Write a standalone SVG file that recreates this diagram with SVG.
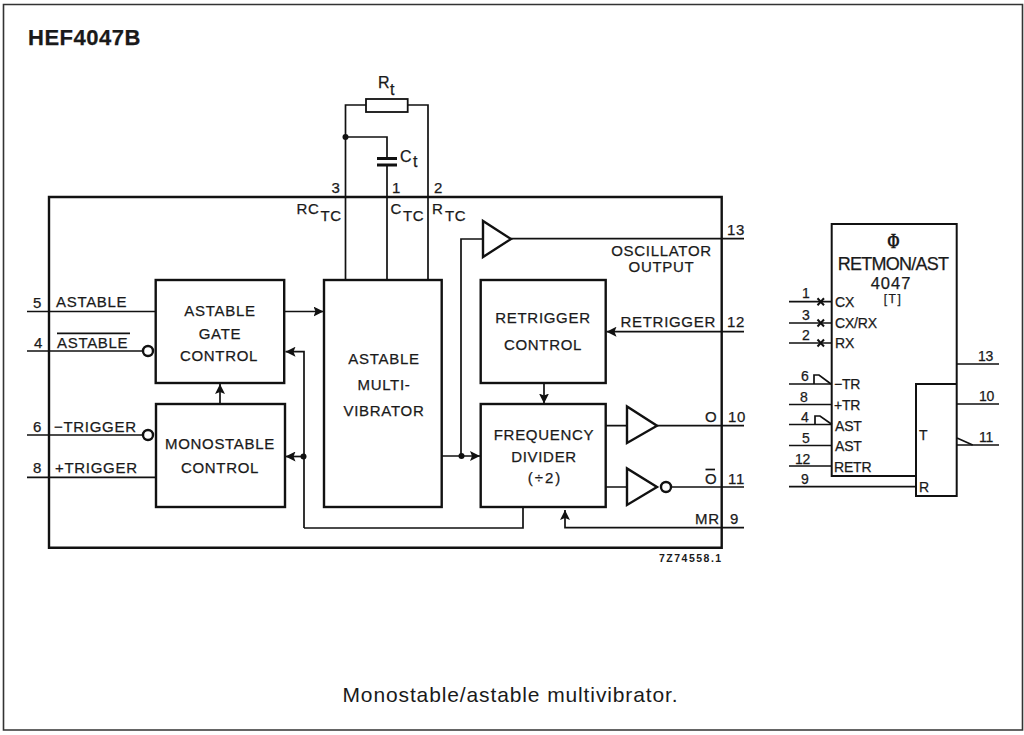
<svg xmlns="http://www.w3.org/2000/svg" width="1024" height="735" viewBox="0 0 1024 735">
<style>
text{font-family:"Liberation Sans",Arial,sans-serif;fill:#1a1a1a;stroke:#1a1a1a;stroke-width:.25;font-size:15px;letter-spacing:.7px}
.m{text-anchor:middle}
.b{fill:none;stroke:#111;stroke-width:2.4}
.l{fill:none;stroke:#111;stroke-width:1.7}
.a{marker-end:url(#arr)}
.d{fill:#111}
.s{font-size:14px;letter-spacing:-.2px}
.w{fill:#fff;stroke:#111;stroke-width:2.4}
</style>
<defs>
<marker id="arr" markerUnits="userSpaceOnUse" markerWidth="11" markerHeight="10" refX="10" refY="5" orient="auto"><path d="M0 0L10 5L0 10L2 5Z" fill="#111"/></marker>
</defs>
<rect width="1024" height="735" fill="#fff"/>
<path id="page-frame" d="M3.5 4.5H1022.5V730H3.5Z" fill="none" stroke="#333" stroke-width="1.6"/>
<text x="28" y="45" style="font-size:22px;font-weight:bold;letter-spacing:.5px">HEF4047B</text>
<text x="510.500" y="702" class="m" style="font-size:21px;letter-spacing:.88px;stroke-width:0">Monostable/astable multivibrator.</text>

<g id="connectors">
<path class="l" d="M27 311.500H156M27 351H143M27 435H143M27 477.300H156"/>
<path class="l a" d="M285 311.500H323.500"/>
<path class="l a" d="M304 528V351.700H285.500"/>
<path class="l a" d="M304 456.500H285.500"/>
<path class="l a" d="M220 404V384"/>
<path class="l" d="M523 507V528H304"/>
<path class="l a" d="M744 331.700H606.500"/>
<path class="l a" d="M544 383V403.500"/>
<path class="l a" d="M442 456H480"/>
<path class="l" d="M461 456V239H483"/>
<path class="l" d="M511 238.700H744"/>
<path class="l" d="M606 425.700H627M657 425.700H744M606 487H627M671 487H744"/>
<path class="l a" d="M744 527.700H565V510"/>
<path class="l" d="M345.500 280V105H366M407.700 105H428V280M345.500 137H387V158.500M387 165V280"/>
<circle class="d" cx="345.500" cy="137" r="3"/>
<circle class="d" cx="303.500" cy="456.500" r="3"/>
<circle class="d" cx="461.500" cy="456" r="3"/>
</g>

<g id="ic-frame"><path class="b" d="M49 197H721.700V547.700H49Z"/>
<text x="33" y="307.500">5</text><text x="56" y="307">ASTABLE</text>
<text x="34" y="347.500">4</text><text x="57" y="347.500">ASTABLE</text><path class="l" d="M57 333.300H130"/>
<text x="33" y="431.500">6</text><text x="54" y="431.500">−TRIGGER</text>
<text x="33" y="473">8</text><text x="55" y="472.700">+TRIGGER</text>
<text x="331.500" y="193">3</text><text x="392" y="193">1</text><text x="434" y="193">2</text>
<text x="296.500" y="214">RC</text><text x="320.500" y="220.500">TC</text>
<text x="390.500" y="214">C</text><text x="403" y="220.500">TC</text>
<text x="432" y="214">R</text><text x="445" y="220.500">TC</text>
<text x="727" y="235">13</text>
<text x="661.500" y="255.500" class="m">OSCILLATOR</text><text x="661.500" y="271.500" class="m">OUTPUT</text>
<text x="620.500" y="327">RETRIGGER</text><text x="727" y="327">12</text>
<text x="705" y="422">O</text><text x="728" y="422">10</text>
<text x="705" y="484">O</text><path class="l" d="M705.500 469.500H715"/><text x="728" y="484">11</text>
<text x="695" y="524">MR</text><text x="730" y="524">9</text>
</g>

<g id="rt"><rect class="b" x="366" y="99" width="41.700" height="13" style="stroke-width:1.8"/>
<text x="378" y="88" style="font-size:16px">R</text><text x="390" y="95" style="font-size:16px">t</text></g>
<g id="ct"><path class="b" d="M377 158.500H397M377 165H397" style="stroke-width:2.800"/>
<text x="400" y="161.500" style="font-size:16px">C</text><text x="413" y="167" style="font-size:16px">t</text></g>

<g id="astable-gate-control"><rect class="b" x="155.700" y="280" width="128.500" height="103"/>
<text x="220" y="315.500" class="m">ASTABLE</text><text x="220" y="339" class="m">GATE</text><text x="219" y="361" class="m">CONTROL</text>
<circle class="w" cx="148" cy="351" r="5"/></g>
<g id="monostable-control"><rect class="b" x="156" y="404" width="129" height="103"/>
<text x="220" y="449" class="m">MONOSTABLE</text><text x="220" y="472.700" class="m">CONTROL</text>
<circle class="w" cx="148" cy="435" r="5"/></g>
<g id="astable-multivibrator"><rect class="b" x="324" y="280" width="117.700" height="227"/>
<text x="384" y="364" class="m">ASTABLE</text><text x="384" y="390" class="m">MULTI-</text><text x="384" y="416" class="m">VIBRATOR</text></g>
<g id="retrigger-control"><rect class="b" x="480.700" y="280" width="125" height="103"/>
<text x="543" y="323" class="m">RETRIGGER</text><text x="543" y="350" class="m">CONTROL</text></g>
<g id="frequency-divider"><rect class="b" x="480.700" y="404" width="125" height="103"/>
<text x="544" y="440" class="m">FREQUENCY</text><text x="544" y="461.700" class="m">DIVIDER</text><text x="545" y="483" class="m" style="letter-spacing:2px">(÷2)</text></g>
<g id="buffer-osc"><path class="w" d="M483 221V257L511 239Z"/></g>
<g id="buffer-o"><path class="w" d="M627 406.500V443L657 425.700Z"/></g>
<g id="inverter-o"><path class="w" d="M627 468.500V505L657 487Z"/><circle class="w" cx="666" cy="487" r="5"/></g>
<text id="code" x="659" y="561.500" style="font-size:10.500px;font-weight:bold;letter-spacing:1.5px;stroke-width:0">7Z74558.1</text>

<g id="logic-symbol">
<path class="b" style="stroke-width:2" d="M916 476H831.700V224H956.700V496H916V384H956.700"/>
<path class="l" d="M789 301.700H832M789 323H832M789 343H832M789 384H832M789 404.500H832M789 424.500H832M789 445.500H832M789 466H832M789 486.700H916M957 364H999M957 404H999M957 445H999"/>
<path class="l" style="stroke-width:2" d="M817.500 298.200L824 305.200M824 298.200L817.500 305.200M817.500 319.500L824 326.500M824 319.500L817.500 326.500M817.500 339.500L824 346.500M824 339.500L817.500 346.500"/>
<path class="l" d="M814 384V375H819L831 384M815 424.500V416H820L832 424.500M957 438L972.700 445"/>
<text transform="translate(893.500 247.500) scale(.68 1)" class="m" style="font-family:'Liberation Serif',serif;font-size:22px;font-weight:bold;letter-spacing:0">Φ</text>
<text x="893" y="269.500" class="m" style="font-size:18px;letter-spacing:-.75px">RETMON/AST</text>
<text x="891" y="288.500" class="m" style="font-size:16.500px;letter-spacing:1px">4047</text>
<text x="893" y="302.500" class="m" style="font-size:12px;letter-spacing:1.500px">[T]</text>
<text class="s" x="835" y="306.500">CX</text><text class="s" x="835" y="327.500">CX/RX</text><text class="s" x="835" y="348">RX</text>
<text class="s" x="834" y="389">−TR</text><text class="s" x="834" y="410">+TR</text><text class="s" x="835" y="431">AST</text><text class="s" x="835" y="451">AST</text><text class="s" x="834" y="471.500">RETR</text>
<text class="s" x="802" y="298">1</text><text class="s" x="802" y="320">3</text><text class="s" x="802" y="340">2</text>
<text class="s" x="801" y="380.500">6</text><text class="s" x="800" y="402">8</text><text class="s" x="801" y="422">4</text><text class="s" x="802" y="443">5</text><text class="s" x="795" y="464">12</text><text class="s" x="801" y="484">9</text>
<text class="s" x="978" y="361">13</text><text class="s" x="979" y="401">10</text><text class="s" x="979" y="442">11</text>
<text class="s" x="919" y="440">T</text><text class="s" x="919" y="491.500">R</text>
</g>
</svg>
